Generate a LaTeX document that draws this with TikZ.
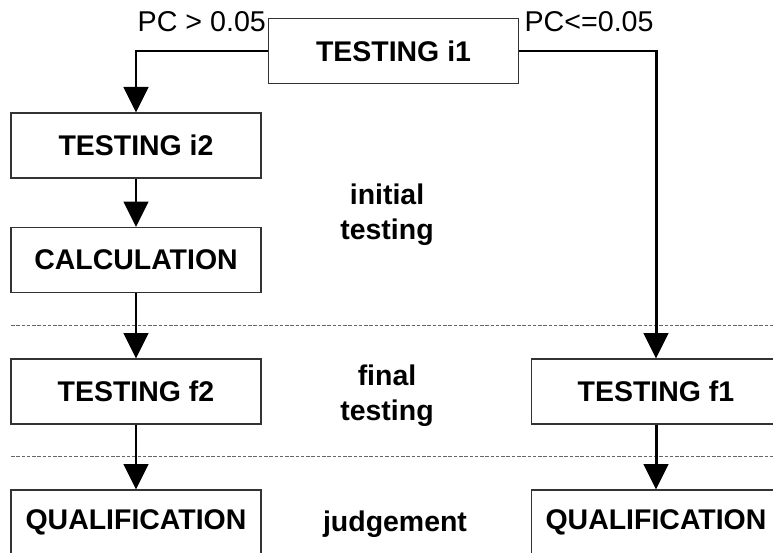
\documentclass[tikz,border=0pt]{standalone}
\usepackage{fontspec}
\setmainfont{Liberation Sans}
\usetikzlibrary{positioning,calc,arrows.meta}

\begin{document}
\begin{tikzpicture}[x=0.02cm,y=-0.02cm,
    stagebox/.style={draw=black!80,line width=0.6pt,minimum width=5cm,minimum height=1.3cm,inner sep=0pt,font=\fontsize{16.2}{19}\selectfont\bfseries},
    flow/.style={line width=1.7pt,-{Triangle[width=14pt,length=14.5pt]}},
    cond/.style={font=\fontsize{16.3}{19}\selectfont,inner sep=1pt},
    phase/.style={font=\fontsize{16.2}{19.8}\selectfont\bfseries,align=center,inner sep=0pt},
    divider/.style={draw=black!60,line width=0.5pt,dash pattern=on 2pt off 1pt}]
  \useasboundingbox (0,0) rectangle (773,553);
  \clip (0,0) rectangle (773,553);

  % phase dividers
  \draw[divider] (11,325) -- (773,325);
  \draw[divider] (11,456) -- (773,456);

  % boxes
  \node[stagebox] (i1) at (393.5,51) {TESTING i1};
  \node[stagebox] (i2) at (136,145.5) {TESTING i2};
  \node[stagebox] (calc) at (136,260) {CALCULATION};
  \node[stagebox] (f2) at (136,391.5) {TESTING f2};
  \node[stagebox] (q2) at (136,522.5) {QUALIFICATION};
  \node[stagebox] (f1) at (656,391.5) {TESTING f1};
  \node[stagebox] (q1) at (656,522.5) {QUALIFICATION};

  % branch conditions
  \node[cond,anchor=east] (gt) at ([yshift=-2pt]i1.north west) {PC > 0.05};
  \node[cond,anchor=west] (le) at ([yshift=-2pt,xshift=2pt]i1.north east) {PC<=0.05};

  % phase names
  \node[phase] (initial) at (387,215) {initial\\testing};
  \node[phase] (final) at (387,396) {final\\testing};
  \node[phase] (judge) at (395,524) {judgement};

  % arrows
  \draw[flow] (i1.west) -| (i2.north);
  \draw[flow] (i1.east) -| (f1.north);
  \draw[flow] (i2) -- (calc);
  \draw[flow] (calc) -- (f2);
  \draw[flow] (f2) -- (q2);
  \draw[flow] (f1) -- (q1);
\end{tikzpicture}
\end{document}
